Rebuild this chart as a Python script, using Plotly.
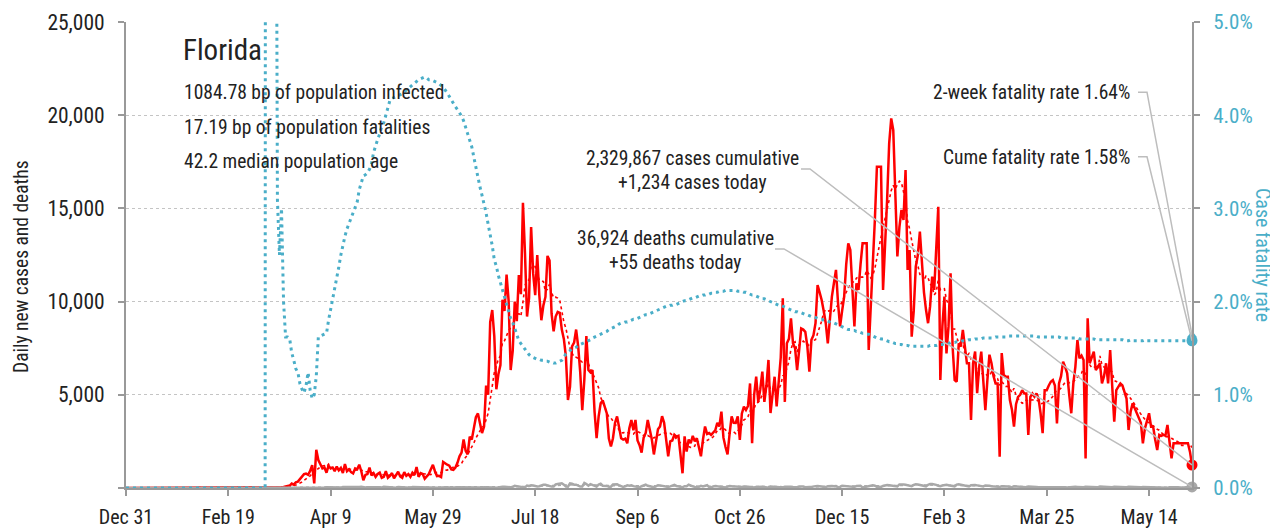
import pandas as pd
import plotly.graph_objects as go

START = "2019-12-31"

# ---------------- data (daily, Dec 31 2019 .. Jun 4 2021) ----------------
daily_cases = (
    [0, 0, 0, 0, 0, 0, 0, 0, 0, 0, 0, 0, 0, 0, 0, 0, 0, 0, 0, 0,
     0, 0, 0, 0, 0, 0, 0, 0, 0, 0, 0, 0, 0, 0, 0, 0, 0, 0, 0, 0,
     0, 0, 0, 0, 0, 0, 0, 0, 0, 0, 0, 0, 0, 0, 0, 0, 0, 0, 0, 0, 0] +
    # Mar 2020
    [2, 0, 1, 1, 3, 2, 5, 4, 3, 7, 5, 9, 20, 15, 39, 40, 61, 98, 115, 130,
     235, 180, 300, 340, 480, 600, 740, 770, 710, 915, 1230] +
    # Apr 2020
    [250, 2050, 1500, 1240, 1050, 1100, 820, 1200, 1050, 1100, 900, 1150, 950, 1080, 800,
     1280, 900, 1000, 850, 780, 1050, 1000, 1250, 900, 420, 700, 750, 1100, 680, 800] +
    # May 2020
    [600, 750, 820, 550, 600, 900, 550, 650, 800, 520, 700, 870, 620, 550, 850, 650,
     750, 600, 820, 700, 1130, 600, 800, 750, 500, 650, 750, 1000, 1240, 900, 640] +
    # Jun 2020
    [650, 590, 1400, 1300, 1250, 1200, 1000, 970, 1100, 1350, 1700, 1900, 2600, 2000, 1800,
     2750, 2600, 3200, 3800, 4000, 3500, 2950, 3300, 5500, 5000, 8900, 9550, 8150, 5300, 6100] +
    # Jul 2020
    [6600, 10100, 9500, 11450, 10050, 6330, 7350, 10000, 8950, 11430, 10400, 15300, 12600,
     9200, 10200, 14000, 11500, 10350, 12500, 10350, 9000, 9800, 10250, 12450, 12200, 9350,
     8400, 9200, 9450, 9400, 8500] +
    # Aug 2020
    [8000, 7050, 4720, 5430, 7600, 7800, 8500, 7600, 6200, 4180, 5800, 8150, 6330, 6200,
     6330, 4100, 2670, 3840, 4550, 4700, 4300, 4000, 2650, 2230, 2670, 3490, 3840, 3200,
     2670, 2600, 2650] +
    # Sep 2020
    [2400, 3200, 3650, 3100, 3650, 2550, 2300, 1900, 2700, 2950, 3650, 3200, 2600, 1800,
     2400, 3150, 3300, 3850, 3500, 2500, 1700, 2500, 2550, 2860, 2750, 2800, 1950, 790,
     2770, 1950] +
    # Oct 2020
    [2600, 2400, 2800, 2500, 2670, 2200, 1700, 2600, 3300, 2900, 2950, 2850, 2950, 3100,
     3490, 3300, 4100, 2700, 2200, 1800, 2900, 3840, 3500, 3490, 3840, 2575, 4000, 4360,
     4190, 4400, 5610] +
    # Nov 2020
    [2400, 4980, 5970, 4620, 5300, 6240, 4620, 5500, 6870, 4020, 5000, 5970, 4380, 5500,
     7000, 10180, 4620, 7760, 8000, 9100, 7760, 7500, 6330, 7400, 8560, 8500, 8380, 7600,
     6240, 7950] +
    # Dec 2020
    [8200, 8840, 10890, 10500, 10090, 9500, 8840, 7760, 9000, 10270, 11000, 11700, 9920,
     8670, 9500, 10270, 12000, 13130, 12770, 11000, 8670, 10980, 10630, 12000, 13130, 13130,
     13130, 7400, 9500, 11700, 14380] +
    # Jan 2021
    [17240, 17240, 17240, 10630, 12770, 15500, 18490, 19830, 19200, 15810, 12420, 14000,
     14920, 14380, 17060, 11700, 12770, 8120, 9500, 11880, 12500, 13750, 11880, 10500, 9560,
     8840, 9740, 11340, 10630, 13000, 15090] +
    # Feb 2021
    [5790, 8670, 10270, 7220, 8670, 11520, 7580, 5790, 5700, 7760, 7580, 8480, 7580, 6690,
     6690, 3650, 6690, 7320, 5090, 6500, 7320, 5970, 4180, 5800, 7150, 6690, 6000, 5610] +
    # Mar 2021
    [5610, 1680, 7240, 6060, 5970, 5970, 4720, 4200, 3290, 4500, 4890, 5000, 5250, 5070,
     5070, 2850, 4890, 5070, 4900, 5070, 4800, 4000, 2940, 5250, 5250, 5500, 5700, 5790,
     5500, 3470, 5610] +
    # Apr 2021
    [6000, 6780, 6500, 6150, 5000, 4010, 5610, 6500, 7940, 6960, 7100, 6870, 1590, 9100,
     6690, 7000, 7320, 6330, 6500, 6690, 5610, 6000, 6690, 5610, 7400, 5500, 3560, 5250,
     5430, 5610] +
    # May 2021
    [5500, 5070, 4800, 3110, 4100, 4540, 4300, 4010, 3830, 3500, 2400, 3200, 3600, 4010,
     3290, 3300, 2600, 2040, 2850, 2800, 2850, 2800, 3380, 2400, 1590, 2400, 2400, 2400,
     2400, 2400, 2400] +
    # Jun 2021
    [2400, 2400, 1950, 1234]
)

daily_deaths = (
    [0, 0, 0, 0, 0, 0, 0, 0, 0, 0, 0, 0, 0, 0, 0, 0, 0, 0, 0, 0,
     0, 0, 0, 0, 0, 0, 0, 0, 0, 0, 0, 0, 0, 0, 0, 0, 0, 0, 0, 0,
     0, 0, 0, 0, 0, 0, 0, 0, 0, 0, 0, 0, 0, 0, 0, 0, 0, 0, 0, 0, 0] +
    [0, 0, 0, 0, 0, 0, 0, 0, 2, 0, 0, 0, 0, 0, 1, 1, 1, 1, 2, 3, 2, 3, 4, 5, 7, 8, 10, 8, 9, 12, 14] +
    [20, 25, 30, 33, 35, 28, 45, 40, 30, 32, 40, 38, 30, 22, 60, 55, 45, 40, 28, 25,
     45, 50, 48, 60, 35, 30, 40, 50, 60, 55] +
    [40, 35, 28, 25, 60, 50, 45, 40, 38, 30, 20, 55, 45, 40, 35, 30, 25, 20, 50, 45,
     40, 35, 30, 25, 20, 50, 45, 40, 35, 30, 25] +
    [20, 30, 40, 45, 35, 30, 20, 25, 35, 40, 38, 30, 25, 18, 30, 45, 40, 45, 38, 30,
     20, 25, 40, 45, 40, 38, 30, 25, 20, 45] +
    [60, 70, 65, 55, 40, 35, 65, 120, 100, 90, 95, 45, 35, 130, 110, 150, 130, 90, 80, 95,
     140, 170, 175, 140, 125, 75, 80, 190, 215, 255, 255] +
    [180, 75, 70, 245, 225, 180, 180, 140, 75, 80, 275, 210, 120, 210, 160, 90, 75, 180, 225, 125,
     120, 110, 70, 70, 190, 210, 200, 140, 110, 60, 85] +
    [145, 120, 145, 100, 80, 60, 40, 95, 150, 180, 120, 95, 100, 40, 90, 150, 140, 125, 100, 60,
     55, 90, 120, 170, 110, 80, 55, 40, 100, 95] +
    [175, 110, 90, 60, 35, 65, 120, 85, 105, 150, 50, 30, 85, 110, 90, 80, 70, 40, 30, 75,
     110, 90, 85, 70, 40, 30, 60, 80, 90, 65, 50] +
    [40, 25, 60, 70, 55, 65, 50, 30, 20, 75, 60, 60, 55, 45, 30, 25, 65, 80, 75, 70,
     55, 35, 40, 80, 85, 75, 40, 30, 55, 60] +
    [60, 100, 110, 90, 80, 55, 50, 95, 120, 110, 90, 100, 45, 60, 120, 110, 105, 95, 75, 55,
     60, 105, 110, 115, 30, 50, 80, 95, 130, 140, 120] +
    [60, 70, 55, 110, 140, 160, 150, 135, 115, 90, 85, 190, 200, 185, 175, 150, 110, 100, 165, 200,
     190, 175, 160, 120, 90, 175, 220, 210, 195, 170, 115] +
    [100, 135, 160, 170, 145, 115, 95, 90, 180, 200, 175, 150, 120, 85, 80, 150, 165, 160, 140, 110,
     80, 85, 135, 140, 120, 100, 85, 70] +
    [80, 60, 95, 100, 90, 75, 55, 45, 90, 85, 80, 70, 60, 40, 45, 75, 80, 70, 65, 55,
     40, 40, 70, 75, 65, 55, 45, 35, 40, 65, 70] +
    [60, 60, 45, 30, 40, 75, 70, 65, 60, 40, 30, 40, 70, 65, 60, 55, 40, 30, 45, 75,
     70, 60, 55, 40, 30, 45, 70, 65, 60, 55] +
    [45, 30, 45, 65, 60, 55, 50, 40, 25, 35, 60, 55, 50, 45, 35, 25, 30, 55, 50, 45,
     40, 30, 20, 35, 50, 45, 40, 35, 25, 20, 15] +
    [45, 50, 40, 55]
)

# cumulative case fatality rate, percent
fatality_rate_pct = (
    [0, 0, 0, 0, 0, 0, 0, 0, 0, 0, 0, 0, 0, 0, 0, 0, 0, 0, 0, 0,
     0, 0, 0, 0, 0, 0, 0, 0, 0, 0, 0, 0, 0, 0, 0, 0, 0, 0, 0, 0,
     0, 0, 0, 0, 0, 0, 0, 0, 0, 0, 0, 0, 0, 0, 0, 0, 0, 0, 0, 0,
     0, 0, 0, 0, 0, 0, 0, 0, 0] +
    [50, 33, 25, 14, 10, 3.1, 2.5, 3.0, 2.0, 1.62] +
    [1.62, 1.6, 1.45, 1.37, 1.28, 1.24, 1.12, 1.06, 1.02, 1.1, 1.24, 1.05, 0.96, 1.0, 1.2,
     1.62, 1.63, 1.64, 1.65, 1.66] +
    [1.8, 1.91, 2.0, 2.12, 2.25, 2.37, 2.5, 2.62, 2.7, 2.78, 2.84, 2.9, 2.95, 3.0, 3.07,
     3.2, 3.28, 3.35, 3.36, 3.38, 3.42, 3.48, 3.6, 3.68, 3.74, 3.8, 3.88, 3.92, 4.0, 4.1] +
    [4.16, 4.18, 4.19, 4.2, 4.21, 4.22, 4.23, 4.25, 4.27, 4.29, 4.3, 4.32, 4.34, 4.36, 4.38,
     4.39, 4.4, 4.41, 4.4, 4.38, 4.38, 4.37, 4.36, 4.35, 4.34, 4.32, 4.3, 4.27, 4.24, 4.2] +
    [4.16, 4.12, 4.09, 4.06, 4.03, 3.99, 3.94, 3.88, 3.8, 3.73, 3.66, 3.55, 3.43, 3.33, 3.23,
     3.14, 3.05, 2.95, 2.83, 2.72, 2.6, 2.45, 2.38, 2.28, 2.2, 2.12, 2.05, 1.99, 1.9, 1.82] +
    [1.78, 1.71, 1.65, 1.58, 1.55, 1.52, 1.48, 1.45, 1.43, 1.41, 1.4, 1.39, 1.38, 1.38, 1.37,
     1.37, 1.36, 1.36, 1.35, 1.35, 1.34, 1.34, 1.35, 1.36, 1.37, 1.4, 1.44, 1.46, 1.48, 1.49] +
    [1.5, 1.51, 1.53, 1.54, 1.55, 1.56, 1.57, 1.58, 1.59, 1.61, 1.62, 1.63, 1.64, 1.65, 1.66,
     1.67, 1.68, 1.7, 1.71, 1.72, 1.73, 1.74, 1.76, 1.77, 1.77, 1.78, 1.78, 1.79, 1.8, 1.81] +
    [1.81, 1.82, 1.83, 1.84, 1.85, 1.86, 1.86, 1.87, 1.88, 1.89, 1.9, 1.91, 1.92, 1.93, 1.94,
     1.95, 1.95, 1.96, 1.96, 1.97, 1.97, 1.98, 1.99, 2.0, 2.01, 2.01, 2.02, 2.03, 2.04, 2.04] +
    [2.05, 2.06, 2.06, 2.07, 2.07, 2.08, 2.08, 2.09, 2.09, 2.1, 2.1, 2.11, 2.11, 2.11, 2.12,
     2.12, 2.12, 2.12, 2.12, 2.12, 2.11, 2.11, 2.11, 2.1, 2.1, 2.09, 2.08, 2.07, 2.07, 2.06] +
    [2.05, 2.04, 2.03, 2.03, 2.02, 2.01, 2.0, 1.99, 1.98, 1.97, 1.96, 1.96, 1.95, 1.94, 1.93,
     1.92, 1.91, 1.9, 1.89, 1.89, 1.88, 1.88, 1.87, 1.86, 1.86, 1.85, 1.84, 1.84, 1.83, 1.82] +
    [1.81, 1.81, 1.8, 1.79, 1.79, 1.78, 1.77, 1.77, 1.76, 1.75, 1.74, 1.73, 1.72, 1.71, 1.7,
     1.7, 1.69, 1.69, 1.68, 1.68, 1.67, 1.66, 1.66, 1.65, 1.65, 1.64, 1.63, 1.62, 1.61, 1.61] +
    [1.6, 1.6, 1.59, 1.58, 1.57, 1.57, 1.56, 1.55, 1.55, 1.54, 1.54, 1.53, 1.53, 1.53, 1.52,
     1.52, 1.52, 1.52, 1.52, 1.52, 1.52, 1.52, 1.52, 1.52, 1.53, 1.53, 1.53, 1.53, 1.54, 1.54] +
    [1.54, 1.55, 1.55, 1.55, 1.56, 1.56, 1.56, 1.57, 1.57, 1.57, 1.58, 1.58, 1.58, 1.59, 1.59,
     1.59, 1.6, 1.6, 1.6, 1.6, 1.61, 1.61, 1.61, 1.61, 1.61, 1.61, 1.62, 1.62, 1.62, 1.62] +
    [1.62, 1.62, 1.63, 1.63, 1.63, 1.63, 1.63, 1.63, 1.63, 1.63, 1.63, 1.63, 1.63, 1.63, 1.63,
     1.63, 1.63, 1.62, 1.62, 1.62, 1.62, 1.62, 1.62, 1.62, 1.62, 1.62, 1.62, 1.62, 1.61, 1.61] +
    [1.61, 1.61, 1.61, 1.61, 1.61, 1.61, 1.61, 1.6, 1.6, 1.6, 1.6, 1.6, 1.6, 1.6, 1.6,
     1.59, 1.59, 1.59, 1.59, 1.59, 1.59, 1.59, 1.59, 1.59, 1.59, 1.59, 1.59, 1.59, 1.59, 1.58] +
    [1.58, 1.58, 1.59, 1.58, 1.58, 1.58, 1.58, 1.58, 1.58, 1.59, 1.58, 1.58, 1.58, 1.58, 1.58,
     1.58, 1.58, 1.58, 1.58, 1.58, 1.58, 1.58, 1.58, 1.58, 1.58, 1.58, 1.58, 1.58, 1.58, 1.58,
     1.58, 1.58, 1.58]
)

two_week_rate_pct = 1.64
cume_rate_pct = 1.58

tick_dates = ["2019-12-31", "2020-02-19", "2020-04-09", "2020-05-29", "2020-07-18",
              "2020-09-06", "2020-10-26", "2020-12-15", "2021-02-03", "2021-03-25",
              "2021-05-14"]
tick_labels = ["Dec 31", "Feb 19", "Apr 9", "May 29", "Jul 18", "Sep 6", "Oct 26",
               "Dec 15", "Feb 3", "Mar 25", "May 14"]
y_ticks = [0, 5000, 10000, 15000, 20000, 25000]
y_tick_labels = ["", "5,000", "10,000", "15,000", "20,000", "25,000"]
y2_ticks = [0, 1, 2, 3, 4, 5]
y2_tick_labels = ["0.0%", "1.0%", "2.0%", "3.0%", "4.0%", "5.0%"]

info_lines = ["1084.78 bp of population infected",
              "17.19 bp of population fatalities",
              "42.2 median population age"]
cases_text = ["2,329,867 cases cumulative", "+1,234 cases today"]
deaths_text = ["36,924 deaths cumulative", "+55 deaths today"]

assert len(daily_cases) == 522, len(daily_cases)
assert len(daily_deaths) == 522, len(daily_deaths)
assert len(fatality_rate_pct) == 522, len(fatality_rate_pct)

# ---------------- figure ----------------
dates = pd.date_range(START, periods=len(daily_cases), freq="D")
cases_avg = pd.Series(daily_cases).rolling(7, min_periods=1).mean()
deaths_avg = pd.Series(daily_deaths).rolling(7, min_periods=1).mean()
last = dates[-1].strftime("%Y-%m-%d")

FONT = "Roboto Condensed, Roboto, sans-serif"
RED = "#ff0000"
GRAY = "#a8a8a8"
BLUE = "#4aaec8"
AXIS = "#999999"
TXT = "#222222"

fig = go.Figure()
fig.add_trace(go.Scatter(x=dates, y=cases_avg, mode="lines",
                         line=dict(color=RED, width=1.6, dash="dot"), hoverinfo="skip"))
fig.add_trace(go.Scatter(x=dates, y=daily_cases, mode="lines",
                         line=dict(color=RED, width=2.5), hoverinfo="skip"))
fig.add_trace(go.Scatter(x=dates, y=deaths_avg, mode="lines",
                         line=dict(color=GRAY, width=1.6, dash="dot"), hoverinfo="skip"))
fig.add_trace(go.Scatter(x=dates, y=daily_deaths, mode="lines",
                         line=dict(color=GRAY, width=2.5), hoverinfo="skip"))
fig.add_trace(go.Scatter(x=dates, y=fatality_rate_pct, mode="lines", yaxis="y2",
                         line=dict(color=BLUE, width=3, dash="3px,4px"), hoverinfo="skip"))
# end markers
fig.add_trace(go.Scatter(x=[dates[-1]], y=[daily_cases[-1]], mode="markers", cliponaxis=False,
                         marker=dict(color=RED, size=11), hoverinfo="skip"))
fig.add_trace(go.Scatter(x=[dates[-1]], y=[daily_deaths[-1]], mode="markers", cliponaxis=False,
                         marker=dict(color=GRAY, size=11), hoverinfo="skip"))
fig.add_trace(go.Scatter(x=[dates[-1]], y=[two_week_rate_pct], mode="markers", yaxis="y2",
                         cliponaxis=False,
                         marker=dict(color=BLUE, size=9, symbol="triangle-up"), hoverinfo="skip"))
fig.add_trace(go.Scatter(x=[dates[-1]], y=[cume_rate_pct], mode="markers", yaxis="y2",
                         cliponaxis=False,
                         marker=dict(color=BLUE, size=11), hoverinfo="skip"))

# leader lines (pixel paths anchored at the data points)
leaders = [
    ("y", daily_cases[-1], "M -391,296 L -382,296 L 0,0"),
    ("y", daily_deaths[-1], "M -417,238 L -408,238 L 0,0"),
    ("y2", two_week_rate_pct, "M -54,243 L -45,243 L 0,0"),
    ("y2", cume_rate_pct, "M -54,184 L -45,184 L 0,0"),
]
for yref, yval, path in leaders:
    fig.add_shape(type="path", xref="x", yref=yref, xsizemode="pixel", ysizemode="pixel",
                  xanchor=last, yanchor=yval, path=path,
                  line=dict(color="#bdbdbd", width=1.5), layer="above")

ann = []
def txt(text, x, y, size=19.5, xanchor="left", color=TXT):
    ann.append(dict(text=text, x=x, y=y, xref="paper", yref="paper", showarrow=False,
                    xanchor=xanchor, yanchor="middle", font=dict(family=FONT, size=size, color=color)))

# page has an 8px body offset; plot area in page pixels is x 126..1192, y 22..488
PW, PH, L, T = 1066.0, 466.0, 126.0, 22.0
def px(xp):
    return (xp - L) / PW
def py(yp):
    return (T + PH - yp) / PH

txt("Florida", px(181), py(50), size=29)
for line, yp in zip(info_lines, [92, 127, 161]):
    txt(line, px(182), py(yp))
for line, yp in zip(cases_text, [158, 182]):
    txt(line, px(692), py(yp), xanchor="center")
for line, yp in zip(deaths_text, [238, 262]):
    txt(line, px(675), py(yp), xanchor="center")
txt(f"2-week fatality rate {two_week_rate_pct:.2f}%", px(1132), py(92), xanchor="right")
txt(f"Cume fatality rate {cume_rate_pct:.2f}%", px(1132), py(157), xanchor="right")

# axis titles
ann.append(dict(text="Daily new cases and deaths", x=px(21), y=py(267), xref="paper", yref="paper",
                showarrow=False, textangle=-90, xanchor="center", yanchor="middle",
                font=dict(family=FONT, size=19.5, color=TXT)))
ann.append(dict(text="Case fatality rate", x=px(1263), y=py(255), xref="paper", yref="paper",
                showarrow=False, textangle=90, xanchor="center", yanchor="middle",
                font=dict(family=FONT, size=20, color=BLUE)))

fig.update_layout(
    width=1270, height=521,
    margin=dict(l=118, r=86, t=14, b=41),
    paper_bgcolor="white", plot_bgcolor="white",
    showlegend=False,
    font=dict(family=FONT, size=20, color=TXT),
    annotations=ann,
    xaxis=dict(type="date", range=[dates[0], dates[-1]], tickvals=tick_dates, ticktext=tick_labels,
               ticks="outside", ticklen=6, tickwidth=1.5, tickcolor=AXIS, automargin=False,
               showline=True, linecolor=AXIS, linewidth=2, showgrid=False, zeroline=False,
               tickfont=dict(family=FONT, size=20, color=TXT), ticklabelstandoff=4),
    yaxis=dict(range=[0, 25000], tickvals=y_ticks, ticktext=y_tick_labels, automargin=False,
               ticks="outside", ticklen=6, tickwidth=1.5, tickcolor=AXIS,
               showline=True, linecolor=AXIS, linewidth=2, zeroline=False,
               showgrid=True, gridcolor="#c4c4c4", griddash="dot", gridwidth=1,
               tickfont=dict(family=FONT, size=21.5, color=TXT), ticklabelstandoff=9),
    yaxis2=dict(range=[0, 5], overlaying="y", side="right", tickvals=y2_ticks, automargin=False,
                ticktext=y2_tick_labels, ticks="outside", ticklen=6, tickwidth=1.5,
                tickcolor=AXIS, showline=True, linecolor=AXIS, linewidth=2,
                showgrid=False, zeroline=False,
                tickfont=dict(family=FONT, size=21, color=BLUE), ticklabelstandoff=9),
)

fig.write_html("out.html")
